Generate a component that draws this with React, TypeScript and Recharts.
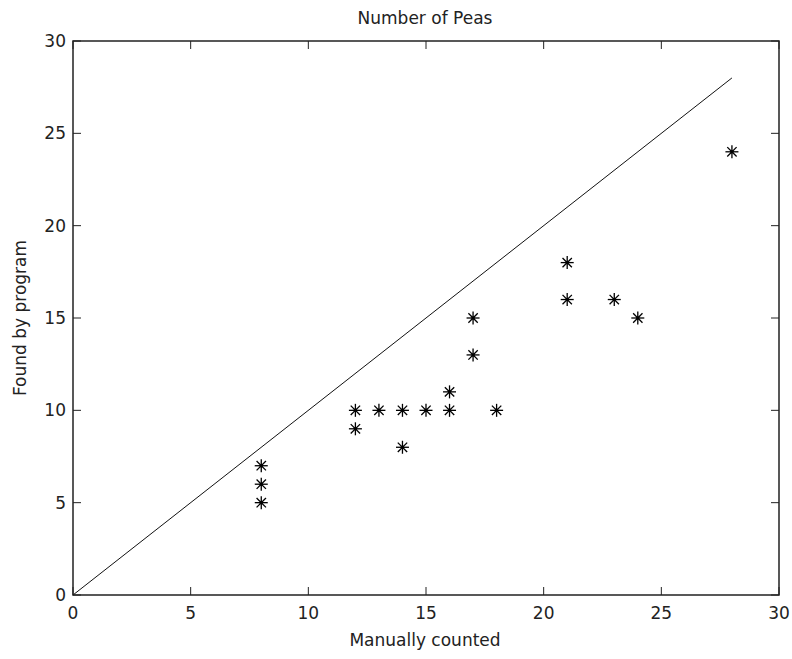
import { ScatterChart, Scatter, XAxis, YAxis, ReferenceArea } from "recharts";

const manual = [8, 8, 8, 12, 12, 13, 14, 14, 15, 16, 16, 17, 17, 18, 21, 21, 23, 24, 28];
const found = [7, 6, 5, 10, 9, 10, 10, 8, 10, 11, 10, 15, 13, 10, 18, 16, 16, 15, 24];
const lineX = [0, 28];
const lineY = [0, 28];
const ticks = [0, 5, 10, 15, 20, 25, 30];

const points = manual.map((m, i) => ({ x: m, y: found[i] }));
const diagonal = lineX.map((v, i) => ({ x: v, y: lineY[i] }));

const FONT = "'DejaVu Sans', sans-serif";
const INK = "#222";
const TICK = 8;
// plot frame edges (from chart margins below)
const TOP = 41;
const BOTTOM = 595;
const LEFT = 73;
const RIGHT = 779;

function Star(props: any) {
  const { cx, cy } = props;
  const r = 6.5;
  const d = r * 0.72;
  return (
    <g stroke="#000" strokeWidth={1.3}>
      <line x1={cx - r} y1={cy} x2={cx + r} y2={cy} />
      <line x1={cx} y1={cy - r} x2={cx} y2={cy + r} />
      <line x1={cx - d} y1={cy - d} x2={cx + d} y2={cy + d} />
      <line x1={cx - d} y1={cy + d} x2={cx + d} y2={cy - d} />
      <circle cx={cx} cy={cy} r={1.8} fill="#000" stroke="none" />
    </g>
  );
}

const BottomTick = (props: any) => {
  const { x, payload } = props;
  return (
    <g>
      <line x1={x} y1={BOTTOM} x2={x} y2={BOTTOM - TICK} stroke={INK} />
      <line x1={x} y1={TOP} x2={x} y2={TOP + TICK} stroke={INK} />
      <text x={x} y={BOTTOM + 24} textAnchor="middle" fontSize={17} fontFamily={FONT} fill={INK}>
        {payload.value}
      </text>
    </g>
  );
};

const LeftTick = (props: any) => {
  const { y, payload } = props;
  return (
    <g>
      <line x1={LEFT} y1={y} x2={LEFT + TICK} y2={y} stroke={INK} />
      <line x1={RIGHT} y1={y} x2={RIGHT - TICK} y2={y} stroke={INK} />
      <text x={LEFT - 7} y={y + 6} textAnchor="end" fontSize={17} fontFamily={FONT} fill={INK}>
        {payload.value}
      </text>
    </g>
  );
};

export default function App() {
  return (
    <div style={{ position: "absolute", left: 0, top: 0, width: 792, height: 659, background: "#fff" }}>
      <ScatterChart width={792} height={659} margin={{ top: TOP, right: 792 - RIGHT, bottom: 0, left: 0 }}>
        <XAxis
          type="number"
          dataKey="x"
          domain={[0, 30]}
          ticks={ticks}
          height={659 - BOTTOM}
          tickLine={false}
          axisLine={false}
          tick={<BottomTick />}
          interval={0}
        />
        <YAxis
          type="number"
          dataKey="y"
          domain={[0, 30]}
          ticks={ticks}
          width={LEFT}
          tickLine={false}
          axisLine={false}
          tick={<LeftTick />}
          interval={0}
        />
        <ReferenceArea x1={0} x2={30} y1={0} y2={30} fill="none" stroke={INK} strokeWidth={1.5} ifOverflow="visible" />
        <Scatter
          data={diagonal}
          line={{ stroke: "#111", strokeWidth: 1 }}
          shape={() => <g />}
          isAnimationActive={false}
        />
        <Scatter data={points} shape={<Star />} isAnimationActive={false} />
        <text x={425} y={24} textAnchor="middle" fontSize={17} fontFamily={FONT} fill={INK}>
          Number of Peas
        </text>
        <text x={425} y={646} textAnchor="middle" fontSize={17} fontFamily={FONT} fill={INK}>
          Manually counted
        </text>
        <text
          x={26}
          y={318}
          textAnchor="middle"
          fontSize={17}
          fontFamily={FONT}
          fill={INK}
          transform="rotate(-90 26 318)"
        >
          Found by program
        </text>
      </ScatterChart>
    </div>
  );
}
